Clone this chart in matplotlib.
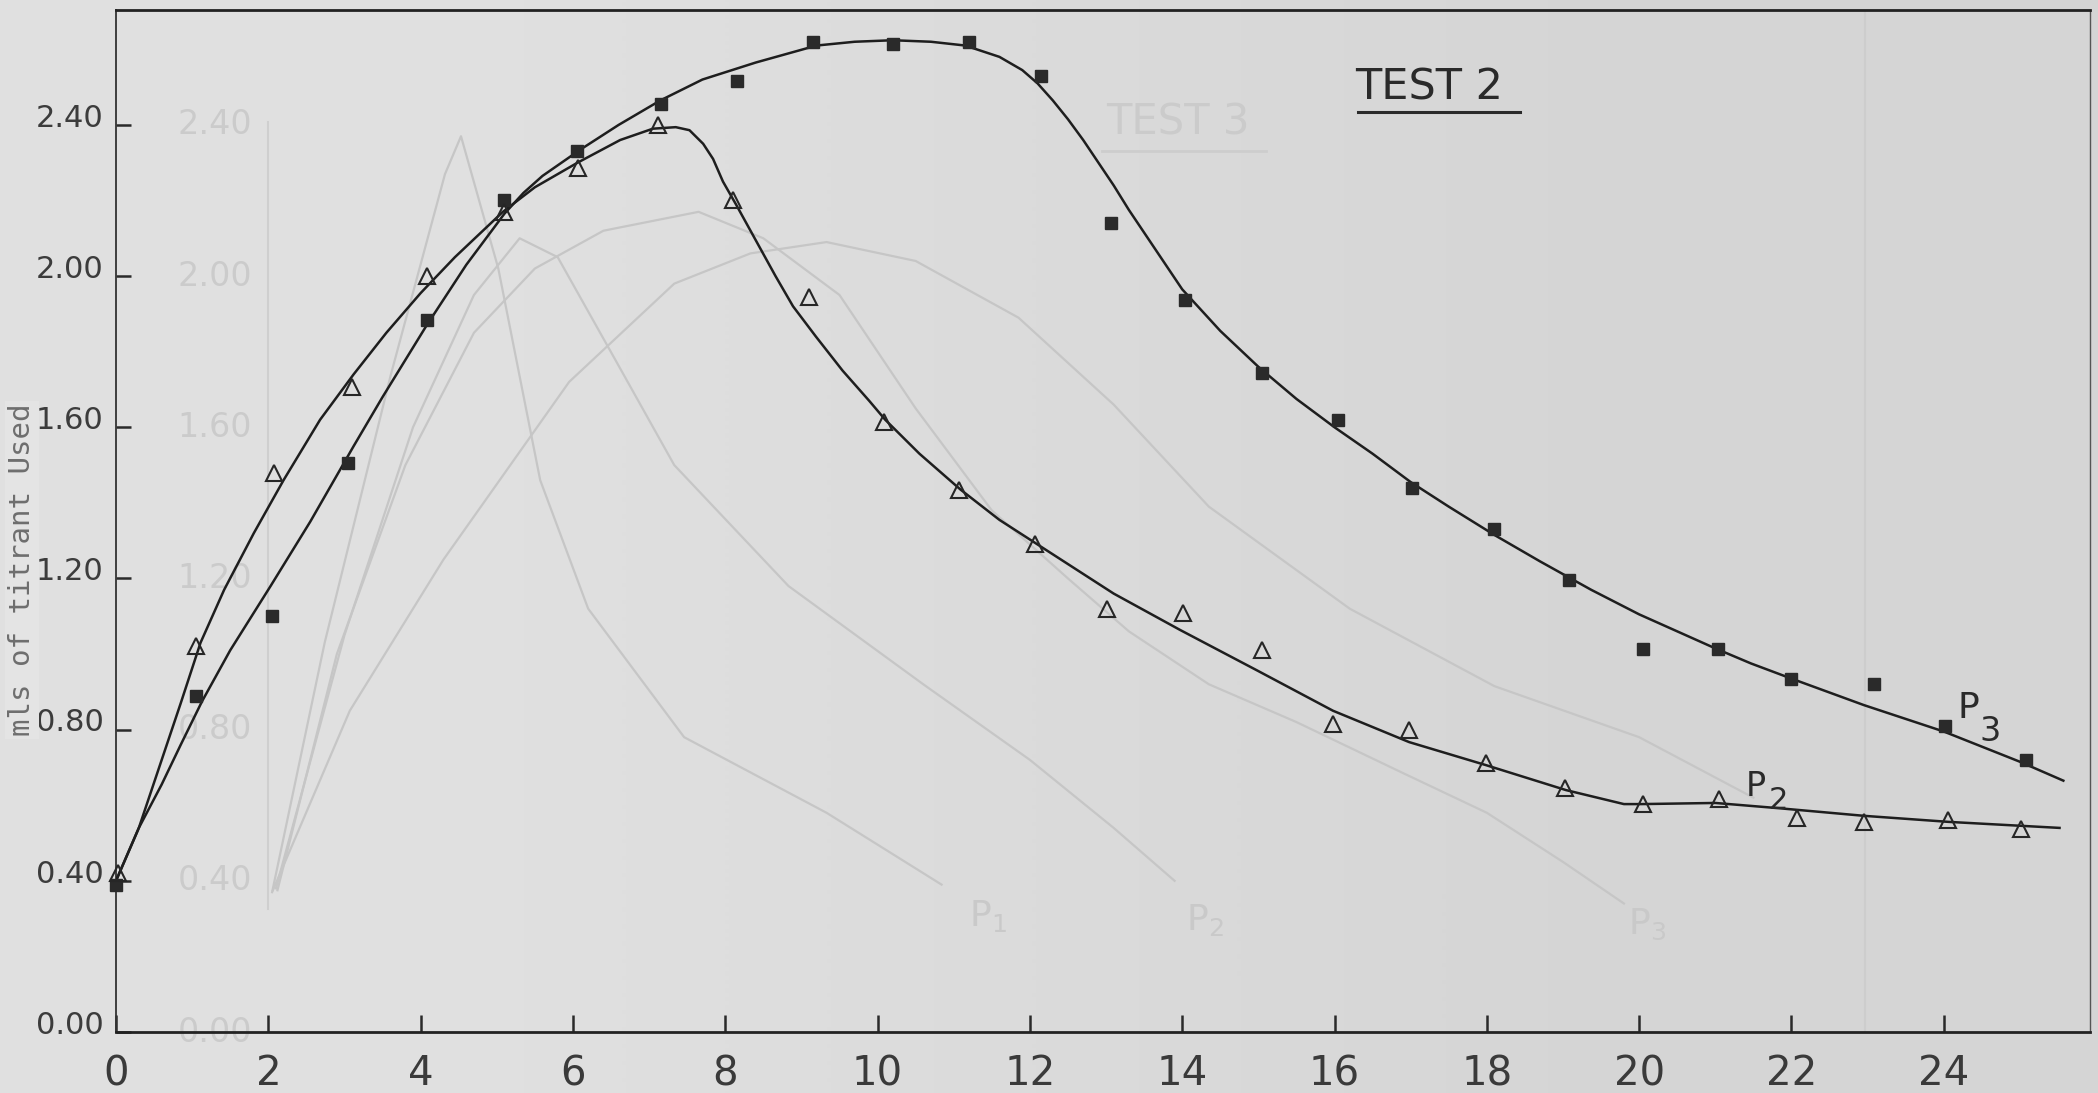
import numpy as np
import matplotlib
matplotlib.use("Agg")
import matplotlib.pyplot as plt
from matplotlib.lines import Line2D
from matplotlib.transforms import ScaledTranslation
from matplotlib import font_manager

# colours of the scanned sheet
paper = '#dadada'
paper_left = 0.875   # grey level, left edge of the sheet
paper_right = 0.835  # grey level, right edge
ink = '#1e1e1e'
ghost = '#c6c6c6'

installed = {f.name for f in font_manager.fontManager.ttflist}
narrow = 'Liberation Sans Narrow' if 'Liberation Sans Narrow' in installed else 'DejaVu Sans'

# P3 readings (filled squares)
p3_x = [0.0, 1.05, 2.05, 3.05, 4.08, 5.1, 6.05, 7.15, 8.15, 9.15, 10.2, 11.2, 12.15,
        13.07, 14.04, 15.05, 16.04, 17.02, 18.09, 19.08, 20.05, 21.04, 22.0, 23.09, 24.02, 25.08]
p3_y = [0.39, 0.89, 1.10, 1.505, 1.885, 2.20, 2.33, 2.455, 2.515, 2.62, 2.615, 2.62, 2.53,
        2.14, 1.937, 1.743, 1.62, 1.44, 1.33, 1.196, 1.013, 1.013, 0.933, 0.922, 0.81, 0.72]

# P2 readings (open triangles)
p2_x = [0.02, 1.05, 2.07, 3.1, 4.08, 5.1, 6.07, 7.12, 8.1, 9.1, 10.09, 11.07, 12.07,
        13.01, 14.01, 15.05, 15.98, 16.98, 17.99, 19.03, 20.05, 21.05, 22.07, 22.95, 24.06, 25.02]
p2_y = [0.42, 1.02, 1.48, 1.706, 2.0, 2.17, 2.285, 2.40, 2.20, 1.945, 1.615, 1.435, 1.29,
        1.12, 1.108, 1.01, 0.815, 0.80, 0.712, 0.646, 0.604, 0.616, 0.566, 0.556, 0.56, 0.536]

# hand drawn curves
p3_curve_x = [0.0, 0.3, 0.6, 0.85, 1.13, 1.5, 2.03, 2.55, 3.12, 3.5, 4.08, 4.6, 5.1, 5.35, 5.6,
              5.85, 6.1, 6.6, 7.15, 7.7, 8.4, 9.2, 9.7, 10.2, 10.7, 11.15, 11.6, 11.9, 12.1,
              12.3, 12.5, 12.7, 12.9, 13.1, 13.3, 13.5, 13.75, 14.0, 14.5, 15.0, 15.5, 16.0,
              16.5, 17.0, 17.5, 18.1, 18.7, 19.37, 20.0, 20.5, 21.0, 21.47, 22.0, 22.95, 24.0,
              25.0, 25.57]
p3_curve_y = [0.40, 0.54, 0.655, 0.76, 0.875, 1.01, 1.18, 1.35, 1.55, 1.68, 1.87, 2.03, 2.165,
              2.22, 2.265, 2.30, 2.335, 2.40, 2.465, 2.52, 2.565, 2.61, 2.62, 2.624, 2.62, 2.61,
              2.58, 2.545, 2.51, 2.465, 2.415, 2.36, 2.30, 2.24, 2.175, 2.115, 2.04, 1.965,
              1.855, 1.76, 1.675, 1.60, 1.53, 1.455, 1.39, 1.315, 1.245, 1.17, 1.105, 1.06,
              1.015, 0.975, 0.935, 0.865, 0.795, 0.715, 0.665]

p2_curve_x = [0.0, 0.3, 0.6, 0.85, 1.11, 1.42, 1.81, 2.2, 2.68, 3.12, 3.55, 4.0, 4.45, 5.08,
              5.5, 6.06, 6.62, 7.05, 7.35, 7.53, 7.71, 7.84, 7.97, 8.14, 8.4, 8.66, 8.89, 9.19,
              9.54, 9.89, 10.1, 10.55, 11.09, 11.6, 12.1, 13.1, 13.97, 14.98, 15.98, 16.98,
              17.99, 19.04, 19.8, 20.03, 21.0, 21.84, 22.95, 24.06, 25.52]
p2_curve_y = [0.40, 0.54, 0.72, 0.87, 1.03, 1.17, 1.32, 1.46, 1.62, 1.74, 1.85, 1.955, 2.05,
              2.17, 2.235, 2.30, 2.36, 2.39, 2.394, 2.386, 2.35, 2.31, 2.25, 2.19, 2.095, 2.0,
              1.92, 1.84, 1.75, 1.67, 1.62, 1.53, 1.435, 1.355, 1.29, 1.16, 1.064, 0.957, 0.85,
              0.767, 0.706, 0.64, 0.603, 0.603, 0.606, 0.592, 0.572, 0.556, 0.54]

# faint curves showing through from the next sheet
g1_x = [2.05, 2.74, 3.61, 4.32, 4.53, 5.02, 5.57, 6.2, 7.46, 9.33, 10.84]
g1_y = [0.37, 1.03, 1.74, 2.27, 2.37, 2.02, 1.46, 1.12, 0.78, 0.58, 0.39]
g2_x = [2.1, 3.0, 3.9, 4.7, 5.3, 5.8, 6.58, 7.33, 8.83, 10.6, 12.0, 13.1, 13.9]
g2_y = [0.38, 1.05, 1.6, 1.95, 2.1, 2.05, 1.77, 1.5, 1.18, 0.92, 0.72, 0.54, 0.40]
g3_x = [2.06, 3.07, 4.3, 5.95, 7.33, 8.33, 9.33, 10.5, 11.85, 13.1, 14.35, 16.2, 18.1, 20.0, 21.5]
g3_y = [0.375, 0.85, 1.25, 1.72, 1.98, 2.06, 2.09, 2.04, 1.89, 1.66, 1.39, 1.12, 0.915, 0.78, 0.62]
g4_x = [2.12, 2.9, 3.8, 4.7, 5.5, 6.4, 7.65, 8.5, 9.5, 10.5, 11.5, 12.5, 13.3, 14.35, 15.5,
        16.9, 18.0, 19.0, 19.8]
g4_y = [0.375, 1.0, 1.5, 1.85, 2.02, 2.12, 2.17, 2.1, 1.95, 1.65, 1.38, 1.2, 1.06, 0.92, 0.82,
        0.685, 0.58, 0.45, 0.34]
ghost_ticks = [0.0, 0.4, 0.8, 1.2, 1.6, 2.0, 2.4]

x_ticks = [0, 2, 4, 6, 8, 10, 12, 14, 16, 18, 20, 22, 24]
y_ticks = [0.0, 0.4, 0.8, 1.2, 1.6, 2.0, 2.4]
y_labels = ['0.00', '0.40', '0.80', '1.20', '1.60', '2.00', '2.40']

W, H = 2098, 1093
fig = plt.figure(figsize=(W / 100, H / 100), dpi=100, facecolor=paper)

# slightly uneven paper tone behind everything
bg = fig.add_axes([0, 0, 1, 1], zorder=-10)
bg.imshow([[paper_left, paper_right]], cmap='gray', vmin=0, vmax=1, aspect='auto',
          interpolation='bilinear', extent=[0, 1, 0, 1])
bg.axis('off')

ax = fig.add_axes([116 / W, 1 - 1032 / H, (2090 - 116) / W, (1032 - 10) / H])
ax.set_facecolor('none')
ax.set_xlim(0.05, 25.92)
ax.set_ylim(0, 2.704)

# ghost layer
for gx, gy in [(g1_x, g1_y), (g2_x, g2_y), (g3_x, g3_y), (g4_x, g4_y)]:
    ax.plot(gx, gy, color=ghost, lw=1.6, solid_joinstyle='round', zorder=1)
ax.axvline(2.0, ymin=0.12, ymax=0.89, color='#cfcfcf', lw=1.5, zorder=1)
ax.axvline(22.96, color='#cdcdcd', lw=1.5, zorder=1)
for v, lab in zip(ghost_ticks, y_labels):
    ax.text(1.3, v, lab, color='#cbcbcb', fontsize=24, ha='center', va='center', zorder=1)
ax.text(13.0, 2.375, 'TEST 3', color='#cbcbcb', fontsize=30, zorder=1)
ax.plot([12.95, 15.1], [2.33, 2.33], color='#cdcdcd', lw=2, zorder=1)
ax.text(11.2, 0.28, 'P$_1$', color='#c9c9c9', fontsize=26, zorder=1)
ax.text(14.05, 0.27, 'P$_2$', color='#c9c9c9', fontsize=26, zorder=1)
ax.text(19.85, 0.26, 'P$_3$', color='#c9c9c9', fontsize=26, zorder=1)

# curves and readings
ax.plot(p3_curve_x, p3_curve_y, color=ink, lw=1.8, solid_joinstyle='round', zorder=3)
ax.plot(p2_curve_x, p2_curve_y, color=ink, lw=1.8, solid_joinstyle='round', zorder=3)
ax.plot(p3_x, p3_y, ls='none', marker='s', ms=9, color='#2a2a2a', mec='#2a2a2a',
        zorder=4, clip_on=False)
ax.plot(p2_x, p2_y, ls='none', marker='^', ms=12, mfc='none', mec='#262626', mew=1.5,
        zorder=4, clip_on=False)

ax.text(24.18, 0.83, 'P', fontsize=26, color='#2a2a2a', va='baseline')
ax.text(24.47, 0.77, '3', fontsize=24, color='#2a2a2a', va='baseline')
ax.text(21.4, 0.625, 'P', fontsize=24, color='#2a2a2a', va='baseline')
ax.text(21.7, 0.59, '2', fontsize=22, color='#2a2a2a', va='baseline')

# axes frame
for side in ['top', 'bottom']:
    ax.spines[side].set_linewidth(2.0)
    ax.spines[side].set_color('#222222')
ax.spines['left'].set_linewidth(1.3)
ax.spines['left'].set_color('#333333')
ax.spines['right'].set_linewidth(1.0)
ax.spines['right'].set_color('#555555')

ax.set_xticks(x_ticks)
ax.set_xticklabels([str(t) for t in x_ticks])
ax.set_yticks(y_ticks)
ax.set_yticklabels(y_labels)
ax.tick_params(axis='x', direction='in', length=12, width=1.8, color='#2a2a2a',
               labelcolor='#3a3a3a', labelsize=29, pad=16)
ax.tick_params(axis='y', direction='in', length=11, width=1.8, color='#2a2a2a',
               labelcolor='#3c3c3c', labelsize=22, pad=9)
for lbl in ax.get_xticklabels():
    lbl.set_family(narrow)
shift = ScaledTranslation(0, 7 / 72, fig.dpi_scale_trans)
for lbl in ax.get_yticklabels():
    lbl.set_transform(lbl.get_transform() + shift)

# title and its underline
fig.text(1355 / W, 1 - 100 / H, 'TEST 2', fontsize=31, color='#2a2a2a', va='baseline')
fig.add_artist(Line2D([1358 / W, 1520 / W], [1 - 112 / H, 1 - 112 / H], color='#2a2a2a', lw=2.2))

# y label, pasted on in typewriter type
fig.text(22 / W, 1 - 570 / H, 'mls of titrant Used', rotation=90, family='DejaVu Sans Mono',
         fontsize=21, color='#6e6e6e', ha='center', va='center',
         bbox=dict(facecolor='#e4e4e4', edgecolor='none', pad=2))

fig.savefig('out.png', dpi=100, facecolor=paper)
